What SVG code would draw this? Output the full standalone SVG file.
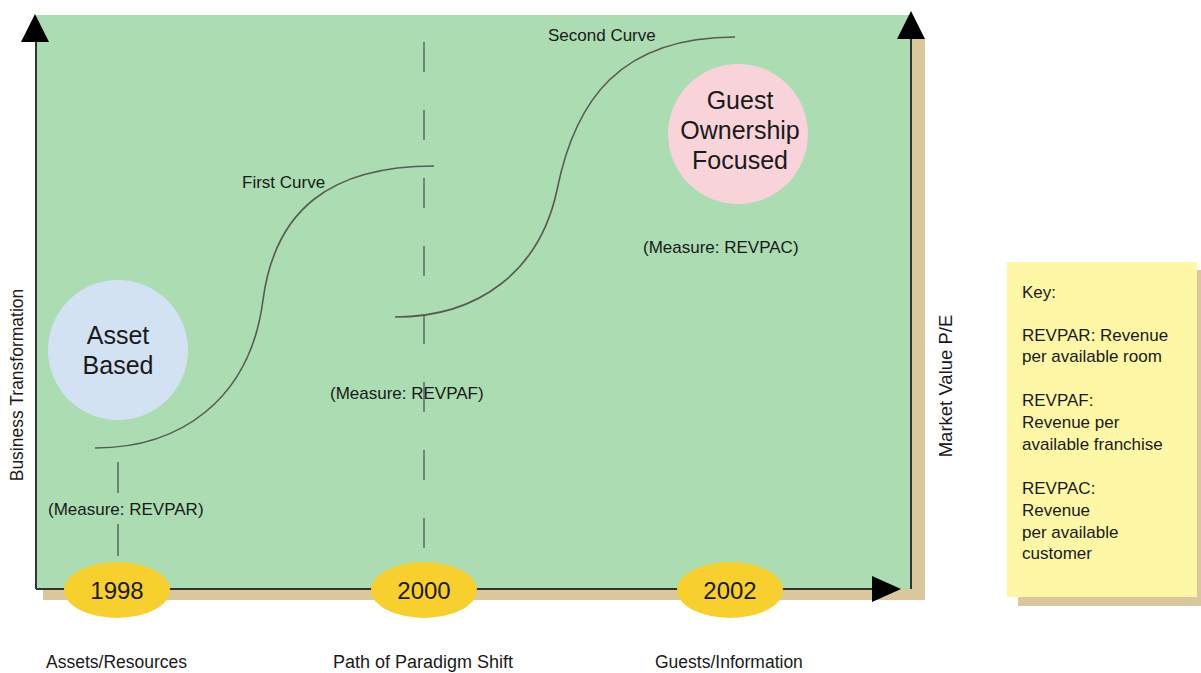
<svg xmlns="http://www.w3.org/2000/svg" width="1201" height="673" viewBox="0 0 1201 673">
  <style>
    text { font-family: "Liberation Sans", Arial, sans-serif; fill: #1a1a1a; }
    .small { font-size: 17px; }
    .axis-label { font-size: 17.5px; }
    .big { font-size: 25px; text-anchor: middle; }
    .year { font-size: 24px; text-anchor: middle; }
    .key { font-size: 17px; }
    .curve { fill: none; stroke: #5a5a55; stroke-width: 1.6; }
    .guide { fill: none; stroke: #5f6f66; stroke-width: 1.6; }
    .shadow { fill: #dcc69c; }
    .axis { stroke: #333; stroke-width: 2; fill: none; }
    .arrowhead { fill: #000; }
    .year-badge { fill: #f8d02e; }
  </style>

  <!-- plot background with offset shadow -->
  <g id="panel">
    <rect class="shadow" x="43" y="38" width="882" height="562"/>
    <rect x="36" y="15" width="875" height="574" fill="#abdcb2"/>
  </g>

  <g id="connectors">
    <!-- axes -->
    <line class="axis" x1="36" y1="40" x2="36" y2="589"/>
    <line class="axis" x1="911" y1="38" x2="911" y2="589"/>
    <line class="axis" x1="36" y1="589" x2="876" y2="589" stroke="#2e4d3e"/>
    <polygon class="arrowhead" points="35,14 21,42 49,42"/>
    <polygon class="arrowhead" points="911,11 897,39 925,39"/>
    <polygon class="arrowhead" points="901,589 872,576 872,602"/>

    <!-- year guides -->
    <line class="guide" x1="118" y1="462" x2="118" y2="493"/>
    <line class="guide" x1="118" y1="524" x2="118" y2="556"/>
    <line class="guide" x1="424" y1="42" x2="424" y2="563" stroke-dasharray="30 38"/>

    <!-- growth curves -->
    <path class="curve" d="M95,448 C180,448 250,400 263,300 C275,210 330,166 434,166"/>
    <path class="curve" d="M395,317 C480,317 540,270 557,190 C575,100 620,37 735,37"/>
  </g>

  <g id="node-asset-based">
    <circle cx="118" cy="350" r="70" fill="#d3e2f2"/>
    <text class="big" x="118" y="344">Asset</text>
    <text class="big" x="118" y="374">Based</text>
  </g>

  <g id="node-guest-ownership">
    <circle cx="738" cy="134" r="70" fill="#f8d3da"/>
    <text class="big" x="740" y="109">Guest</text>
    <text class="big" x="740" y="139">Ownership</text>
    <text class="big" x="740" y="169">Focused</text>
  </g>

  <g id="label-first-curve"><text class="small" x="242" y="188">First Curve</text></g>
  <g id="label-second-curve"><text class="small" x="548" y="41">Second Curve</text></g>
  <g id="label-revpar"><text class="small" x="48" y="515">(Measure: REVPAR)</text></g>
  <g id="label-revpaf"><text class="small" x="330" y="399">(Measure: REVPAF)</text></g>
  <g id="label-revpac"><text class="small" x="643" y="253">(Measure: REVPAC)</text></g>

  <g id="node-1998">
    <ellipse class="year-badge" cx="117" cy="590" rx="53" ry="28"/>
    <text class="year" x="117" y="599">1998</text>
  </g>
  <g id="node-2000">
    <ellipse class="year-badge" cx="424" cy="590" rx="53" ry="28"/>
    <text class="year" x="424" y="599">2000</text>
  </g>
  <g id="node-2002">
    <ellipse class="year-badge" cx="730" cy="590" rx="53" ry="28"/>
    <text class="year" x="730" y="599">2002</text>
  </g>

  <!-- axis titles -->
  <g id="label-business-transformation">
    <text class="axis-label" transform="translate(23,385) rotate(-90)" text-anchor="middle">Business Transformation</text>
  </g>
  <g id="label-market-value">
    <text class="axis-label" transform="translate(952,386) rotate(-90)" text-anchor="middle" style="font-size:18.5px">Market Value P/E</text>
  </g>
  <g id="label-assets-resources"><text class="axis-label" x="46" y="668">Assets/Resources</text></g>
  <g id="label-paradigm-shift"><text class="axis-label" x="333" y="668" style="font-size:18px">Path of Paradigm Shift</text></g>
  <g id="label-guests-information"><text class="axis-label" x="655" y="668">Guests/Information</text></g>

  <g id="node-key">
    <rect class="shadow" x="1018" y="270" width="183" height="336"/>
    <rect x="1007" y="262" width="190" height="335" fill="#fdf7a6"/>
    <text class="key" x="1022" y="298">Key:</text>
    <text class="key" x="1022" y="341">REVPAR: Revenue</text>
    <text class="key" x="1022" y="362">per available room</text>
    <text class="key" x="1022" y="406">REVPAF:</text>
    <text class="key" x="1022" y="428">Revenue per</text>
    <text class="key" x="1022" y="450">available franchise</text>
    <text class="key" x="1022" y="494">REVPAC:</text>
    <text class="key" x="1022" y="516">Revenue</text>
    <text class="key" x="1022" y="538">per available</text>
    <text class="key" x="1022" y="559">customer</text>
  </g>
</svg>
